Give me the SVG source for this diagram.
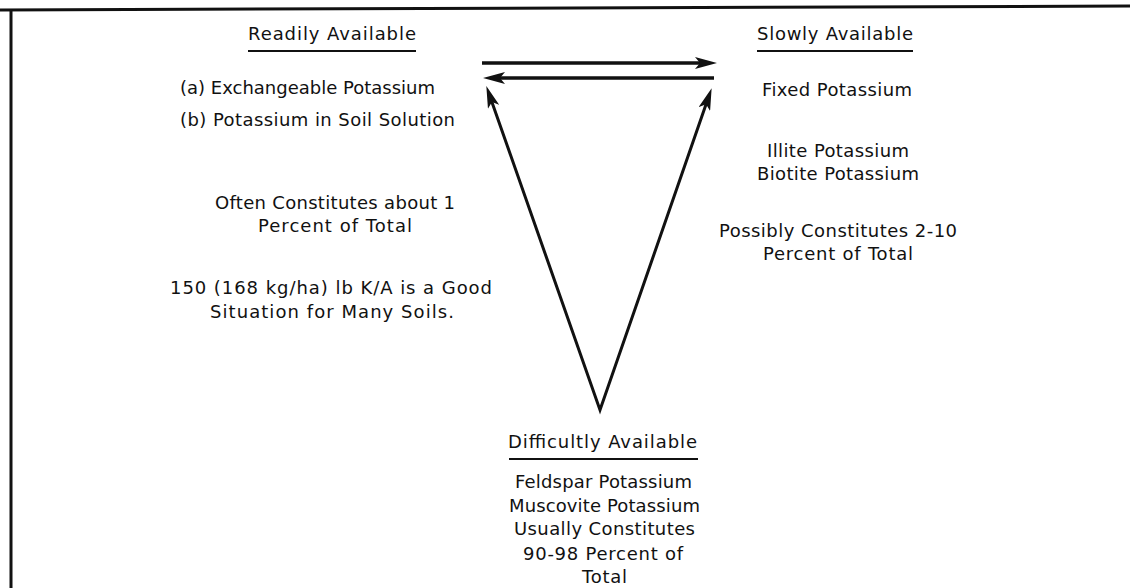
<svg xmlns="http://www.w3.org/2000/svg" width="1130" height="588" viewBox="0 0 1130 588">
<style>
text{font-family:"DejaVu Sans","Liberation Sans",sans-serif;font-size:18px;fill:#111}
.c{text-anchor:middle}
.ln{stroke:#111;fill:none}
</style>
<defs>
<marker id="ah" markerUnits="userSpaceOnUse" markerWidth="22" markerHeight="12" viewBox="0 0 22 12" refX="10" refY="6" orient="auto-start-reverse">
<path d="M0,0 L22,6 L0,12 L5,6 z" fill="#111"/>
</marker>
</defs>
<rect width="1130" height="588" fill="#fff"/>
<g id="frame">
<line class="ln" x1="0" y1="10" x2="1130" y2="6" stroke-width="3"/>
<line class="ln" x1="11" y1="9" x2="11" y2="588" stroke-width="3"/>
</g>
<g id="readily">
<text x="248" y="40" textLength="168">Readily Available</text>
<line class="ln" x1="248" y1="51" x2="416" y2="51" stroke-width="2"/>
<text x="180" y="94" textLength="255">(a) Exchangeable Potassium</text>
<text x="180" y="126" textLength="275">(b) Potassium in Soil Solution</text>
<text x="215" y="209" textLength="240">Often Constitutes about 1</text>
<text x="258" y="232" textLength="154">Percent of Total</text>
<text x="170" y="294" textLength="322">150 (168 kg/ha) lb K/A is a Good</text>
<text x="210" y="318" textLength="244">Situation for Many Soils.</text>
</g>
<g id="slowly">
<text x="757" y="40" textLength="156">Slowly Available</text>
<line class="ln" x1="757" y1="51" x2="913" y2="51" stroke-width="2"/>
<text x="762" y="96" textLength="150">Fixed Potassium</text>
<text x="767" y="157" textLength="142">Illite Potassium</text>
<text x="757" y="180" textLength="162">Biotite Potassium</text>
<text x="719" y="237" textLength="238">Possibly Constitutes 2-10</text>
<text x="763" y="260" textLength="150">Percent of Total</text>
</g>
<g id="difficultly">
<text x="508" y="448" textLength="189">Difficultly Available</text>
<line class="ln" x1="509" y1="459" x2="698" y2="459" stroke-width="2"/>
<text x="515" y="488" textLength="177">Feldspar Potassium</text>
<text x="509" y="512" textLength="191">Muscovite Potassium</text>
<text x="514" y="535" textLength="181">Usually Constitutes</text>
<text x="523" y="560" textLength="160">90-98 Percent of</text>
<text x="582" y="583" textLength="45">Total</text>
</g>
<g id="connectors">
<line class="ln" x1="482" y1="63" x2="705" y2="63" stroke-width="3.5" marker-end="url(#ah)"/>
<line class="ln" x1="714" y1="78" x2="495" y2="78" stroke-width="3.5" marker-end="url(#ah)"/>
<polyline class="ln" points="490.3,97.4 600,410 707.7,99.5" stroke-width="3" stroke-linejoin="miter" stroke-miterlimit="20" marker-start="url(#ah)" marker-end="url(#ah)"/>
</g>
</svg>
